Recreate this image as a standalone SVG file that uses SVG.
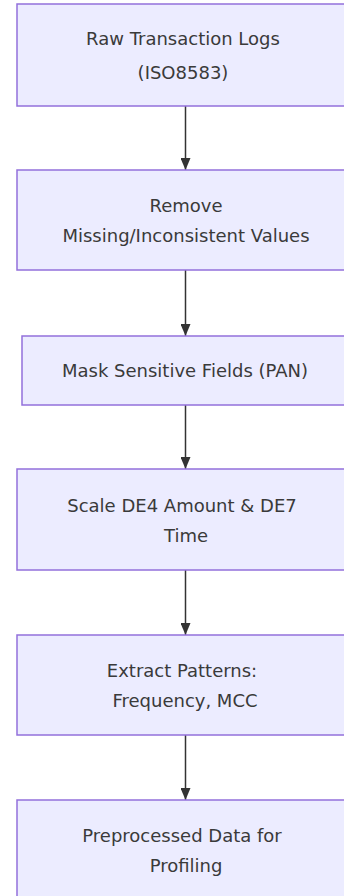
<svg xmlns="http://www.w3.org/2000/svg" width="344" height="896" viewBox="0 0 344 896">
<style>
.node rect{fill:#ECECFF;stroke:#9370DB;stroke-width:1.5}
.node text{font-family:"DejaVu Sans","Open Sans",sans-serif;font-size:18px;fill:#3a3a3a;text-anchor:middle}
.edge{stroke:#333;stroke-width:1.5;fill:none}
</style>
<defs>
<marker id="arr" viewBox="0 0 12 10" refX="12" refY="5" markerWidth="12" markerHeight="10" markerUnits="userSpaceOnUse" orient="auto">
<path d="M0,0 L12,5 L0,10 z" fill="#333"/>
</marker>
</defs>
<g id="edges">
<line class="edge" x1="185.5" y1="106" x2="185.5" y2="170" marker-end="url(#arr)"/>
<line class="edge" x1="185.5" y1="270" x2="185.5" y2="336" marker-end="url(#arr)"/>
<line class="edge" x1="185.5" y1="405" x2="185.5" y2="469" marker-end="url(#arr)"/>
<line class="edge" x1="185.5" y1="570" x2="185.5" y2="635" marker-end="url(#arr)"/>
<line class="edge" x1="185.5" y1="735" x2="185.5" y2="800" marker-end="url(#arr)"/>
</g>
<g id="n1" class="node">
<rect x="17" y="4" width="337" height="102"/>
<text x="183" y="45">Raw Transaction Logs</text>
<text x="183" y="79">(ISO8583)</text>
</g>
<g id="n2" class="node">
<rect x="17" y="170" width="337" height="100"/>
<text x="186" y="212">Remove</text>
<text x="186" y="242">Missing/Inconsistent Values</text>
</g>
<g id="n3" class="node">
<rect x="22" y="336" width="328" height="69"/>
<text x="185" y="377">Mask Sensitive Fields (PAN)</text>
</g>
<g id="n4" class="node">
<rect x="17" y="469" width="337" height="101"/>
<text x="182" y="512">Scale DE4 Amount &amp; DE7</text>
<text x="186" y="542">Time</text>
</g>
<g id="n5" class="node">
<rect x="17" y="635" width="337" height="100"/>
<text x="182" y="677">Extract Patterns:</text>
<text x="185" y="707">Frequency, MCC</text>
</g>
<g id="n6" class="node">
<rect x="17" y="800" width="337" height="100"/>
<text x="182" y="842">Preprocessed Data for</text>
<text x="186" y="872">Profiling</text>
</g>
</svg>
